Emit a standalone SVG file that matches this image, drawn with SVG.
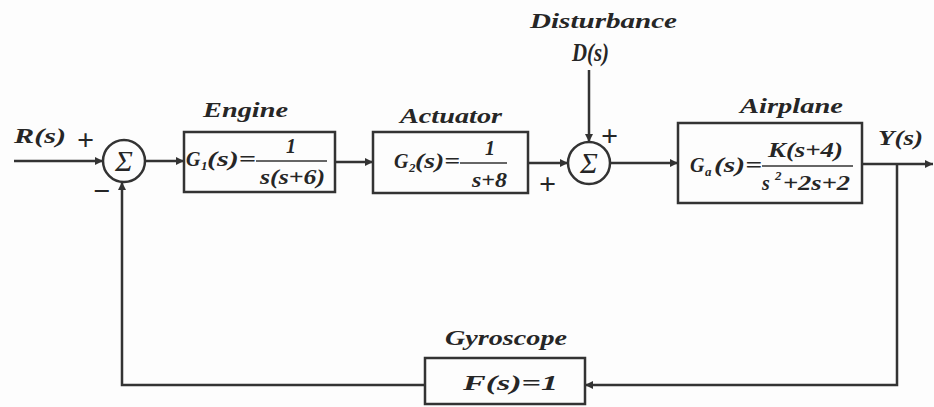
<svg xmlns="http://www.w3.org/2000/svg" width="934" height="407" viewBox="0 0 934 407">
<defs>
<style>
.t{font-family:"Liberation Serif","DejaVu Serif",serif;font-style:italic;font-weight:bold;fill:#262626;}
.l{font-size:21px;}
.m{font-size:20px;}
.s{font-size:13px;}
.pm{font-family:"Liberation Serif",serif;font-weight:bold;font-size:30px;fill:#262626;}
.sg{font-family:"Liberation Serif",serif;font-style:italic;font-size:30px;fill:#262626;}
.blk{fill:none;stroke:#333;stroke-width:2.5;}
.ln{fill:none;stroke:#333;stroke-width:2.5;}
.fr{stroke:#333;stroke-width:1.6;}
</style>
<marker id="ah" viewBox="0 0 10 10" refX="10" refY="5" markerWidth="10" markerHeight="8" markerUnits="userSpaceOnUse" orient="auto">
<path d="M0,0 L10,5 L0,10 z" fill="#333"/>
</marker>
</defs>
<rect x="0" y="0" width="934" height="407" fill="#fdfdfd"/>

<g id="connectors">
<line class="ln" x1="14" y1="161" x2="103" y2="161" marker-end="url(#ah)"/>
<line class="ln" x1="145" y1="161" x2="184" y2="161" marker-end="url(#ah)"/>
<line class="ln" x1="335" y1="162" x2="373" y2="162" marker-end="url(#ah)"/>
<line class="ln" x1="528" y1="163" x2="568" y2="163" marker-end="url(#ah)"/>
<line class="ln" x1="589" y1="70" x2="589" y2="142" marker-end="url(#ah)"/>
<line class="ln" x1="610" y1="163" x2="678" y2="163" marker-end="url(#ah)"/>
<line class="ln" x1="862" y1="164" x2="933" y2="164" marker-end="url(#ah)"/>
<polyline class="ln" points="897,164 897,385 585,385" marker-end="url(#ah)"/>
<polyline class="ln" points="425,385 122,385 122,182" marker-end="url(#ah)"/>
</g>

<g id="labels">
<text class="t l" x="14" y="143" textLength="52" lengthAdjust="spacingAndGlyphs">R(s)</text>
<text class="t l" x="878" y="145" textLength="45" lengthAdjust="spacingAndGlyphs">Y(s)</text>
<text class="t l" x="530" y="28" textLength="147" lengthAdjust="spacingAndGlyphs">Disturbance</text>
<text class="t" x="572" y="61" font-size="26" textLength="37" lengthAdjust="spacingAndGlyphs">D(s)</text>
<text class="pm" x="77" y="150">+</text>
<text class="pm" x="93" y="201">−</text>
<text class="pm" x="601" y="146">+</text>
<text class="pm" x="539" y="194">+</text>
</g>

<g id="sum1">
<circle class="blk" cx="124" cy="161" r="21"/>
<text class="sg" x="124" y="171" text-anchor="middle">Σ</text>
</g>

<g id="engine">
<text class="t l" x="203" y="117" textLength="85" lengthAdjust="spacingAndGlyphs">Engine</text>
<rect class="blk" x="184" y="132" width="151" height="60"/>
<text class="t m" x="186" y="166">G</text>
<text class="t s" x="201" y="170">1</text>
<text class="t m" x="207" y="166" textLength="49" lengthAdjust="spacingAndGlyphs">(s)=</text>
<text class="t m" x="291" y="153" text-anchor="middle">1</text>
<line class="fr" x1="256" y1="161" x2="327" y2="161"/>
<text class="t m" x="260" y="184" textLength="65" lengthAdjust="spacingAndGlyphs">s(s+6)</text>
</g>

<g id="actuator">
<text class="t l" x="400" y="123" textLength="102" lengthAdjust="spacingAndGlyphs">Actuator</text>
<rect class="blk" x="373" y="132" width="155" height="61"/>
<text class="t m" x="394" y="168">G</text>
<text class="t s" x="409" y="172">2</text>
<text class="t m" x="415" y="168" textLength="45" lengthAdjust="spacingAndGlyphs">(s)=</text>
<text class="t m" x="490" y="155" text-anchor="middle">1</text>
<line class="fr" x1="460" y1="163" x2="507" y2="163"/>
<text class="t m" x="472" y="187" textLength="35" lengthAdjust="spacingAndGlyphs">s+8</text>
</g>

<g id="sum2">
<circle class="blk" cx="589" cy="163" r="21"/>
<text class="sg" x="589" y="173" text-anchor="middle">Σ</text>
</g>

<g id="airplane">
<text class="t l" x="740" y="113" textLength="103" lengthAdjust="spacingAndGlyphs">Airplane</text>
<rect class="blk" x="678" y="123" width="184" height="80"/>
<text class="t m" x="690" y="172">G</text>
<text class="t s" x="705" y="176">a</text>
<text class="t m" x="714" y="172" textLength="48" lengthAdjust="spacingAndGlyphs">(s)=</text>
<text class="t m" x="768" y="157" textLength="75" lengthAdjust="spacingAndGlyphs">K(s+4)</text>
<line class="fr" x1="762" y1="166" x2="853" y2="166"/>
<text class="t m" x="762" y="190">s</text>
<text class="t s" x="775" y="180">2</text>
<text class="t m" x="783" y="190" textLength="67" lengthAdjust="spacingAndGlyphs">+2s+2</text>
</g>

<g id="gyroscope">
<text class="t l" x="445" y="345" textLength="122" lengthAdjust="spacingAndGlyphs">Gyroscope</text>
<rect class="blk" x="425" y="358" width="160" height="46"/>
<text class="t l" x="463" y="390" textLength="95" lengthAdjust="spacingAndGlyphs">F(s)=1</text>
</g>
</svg>
